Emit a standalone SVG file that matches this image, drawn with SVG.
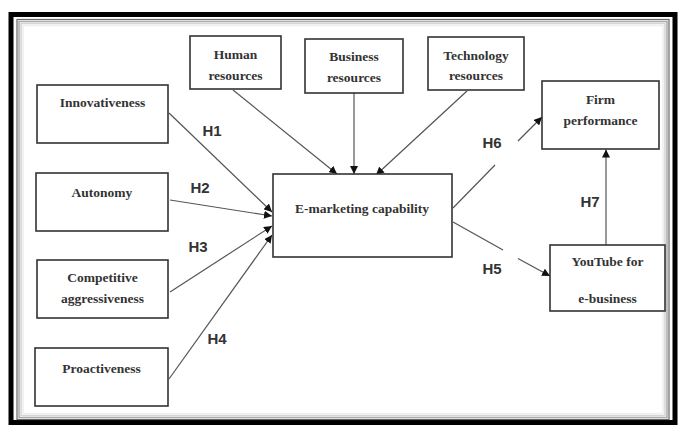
<svg xmlns="http://www.w3.org/2000/svg" width="680" height="425" viewBox="0 0 680 425">
<defs>
<style>
.box{fill:#fff;stroke:#333;stroke-width:1.6}
.lbl{font-family:"Liberation Serif","Times New Roman",serif;font-weight:bold;font-size:13.5px;fill:#333;text-anchor:middle}
.h{font-family:"Liberation Sans",Arial,sans-serif;font-weight:bold;font-size:15px;fill:#333;text-anchor:middle}
.c{stroke:#555;stroke-width:1.2;fill:none}
</style>
<marker id="ah" viewBox="0 0 10 10" refX="10" refY="5" markerWidth="8" markerHeight="8" markerUnits="userSpaceOnUse" orient="auto">
<path d="M0,0 L10,5 L0,10 z" fill="#111"/>
</marker>
</defs>
<rect width="680" height="425" fill="#fff"/>
<g id="frame">
<rect x="11" y="14.5" width="664" height="408" fill="none" stroke="#000" stroke-width="5"/>
<rect x="17" y="19.5" width="652" height="400" fill="none" stroke="#666" stroke-width="1.2"/>
<rect x="19" y="21.5" width="648" height="396" fill="none" stroke="#aaa" stroke-width="1.5"/>
<rect x="21" y="23.5" width="644" height="392" fill="none" stroke="#d4d4d4" stroke-width="1.5"/>
<rect x="23" y="25.5" width="640" height="388" fill="none" stroke="#eee" stroke-width="1.5"/>
</g>
<g id="connectors">
<line class="c" x1="233" y1="90" x2="337" y2="174" marker-end="url(#ah)"/>
<line class="c" x1="354" y1="93" x2="354" y2="174" marker-end="url(#ah)"/>
<line class="c" x1="467" y1="91" x2="376" y2="175" marker-end="url(#ah)"/>
<line class="c" x1="169" y1="113" x2="272" y2="212" marker-end="url(#ah)"/>
<line class="c" x1="170" y1="200" x2="272" y2="216" marker-end="url(#ah)"/>
<line class="c" x1="170" y1="292" x2="272" y2="226" marker-end="url(#ah)"/>
<line class="c" x1="169" y1="379" x2="272" y2="235" marker-end="url(#ah)"/>
<line class="c" x1="453" y1="208" x2="495" y2="165"/>
<line class="c" x1="518" y1="141" x2="542" y2="117" marker-end="url(#ah)"/>
<line class="c" x1="453" y1="222" x2="503" y2="250"/>
<line class="c" x1="518" y1="258.5" x2="550" y2="276" marker-end="url(#ah)"/>
<line class="c" x1="606" y1="245" x2="606" y2="149.5" marker-end="url(#ah)"/>
<text class="h" x="212" y="136">H1</text>
<text class="h" x="200" y="193">H2</text>
<text class="h" x="198" y="252">H3</text>
<text class="h" x="217" y="344">H4</text>
<text class="h" x="492" y="148">H6</text>
<text class="h" x="492" y="274">H5</text>
<text class="h" x="590" y="207">H7</text>
</g>
<g id="human">
<rect class="box" x="190" y="36" width="91" height="53"/>
<text class="lbl" x="235.5" y="59">Human</text>
<text class="lbl" x="235.5" y="80">resources</text>
</g>
<g id="business">
<rect class="box" x="305" y="39" width="98" height="54"/>
<text class="lbl" x="354" y="61">Business</text>
<text class="lbl" x="354" y="82">resources</text>
</g>
<g id="technology">
<rect class="box" x="428" y="37" width="96" height="53"/>
<text class="lbl" x="476" y="60">Technology</text>
<text class="lbl" x="476" y="80">resources</text>
</g>
<g id="innovativeness">
<rect class="box" x="37" y="85" width="131" height="58"/>
<text class="lbl" x="102.5" y="107">Innovativeness</text>
</g>
<g id="autonomy">
<rect class="box" x="36" y="173" width="132" height="58"/>
<text class="lbl" x="102" y="197">Autonomy</text>
</g>
<g id="competitive">
<rect class="box" x="37" y="260" width="131" height="58"/>
<text class="lbl" x="102.5" y="282">Competitive</text>
<text class="lbl" x="102.5" y="303">aggressiveness</text>
</g>
<g id="proactiveness">
<rect class="box" x="35" y="348" width="133" height="58"/>
<text class="lbl" x="101.5" y="373">Proactiveness</text>
</g>
<g id="emarketing">
<rect class="box" x="273" y="174" width="179" height="83"/>
<text class="lbl" x="362" y="213">E-marketing capability</text>
</g>
<g id="firm">
<rect class="box" x="542" y="81" width="117" height="68"/>
<text class="lbl" x="600.5" y="104">Firm</text>
<text class="lbl" x="600.5" y="125">performance</text>
</g>
<g id="youtube">
<rect class="box" x="550" y="245" width="115" height="66"/>
<text class="lbl" x="607.5" y="266">YouTube for</text>
<text class="lbl" x="607.5" y="303">e-business</text>
</g>
</svg>
